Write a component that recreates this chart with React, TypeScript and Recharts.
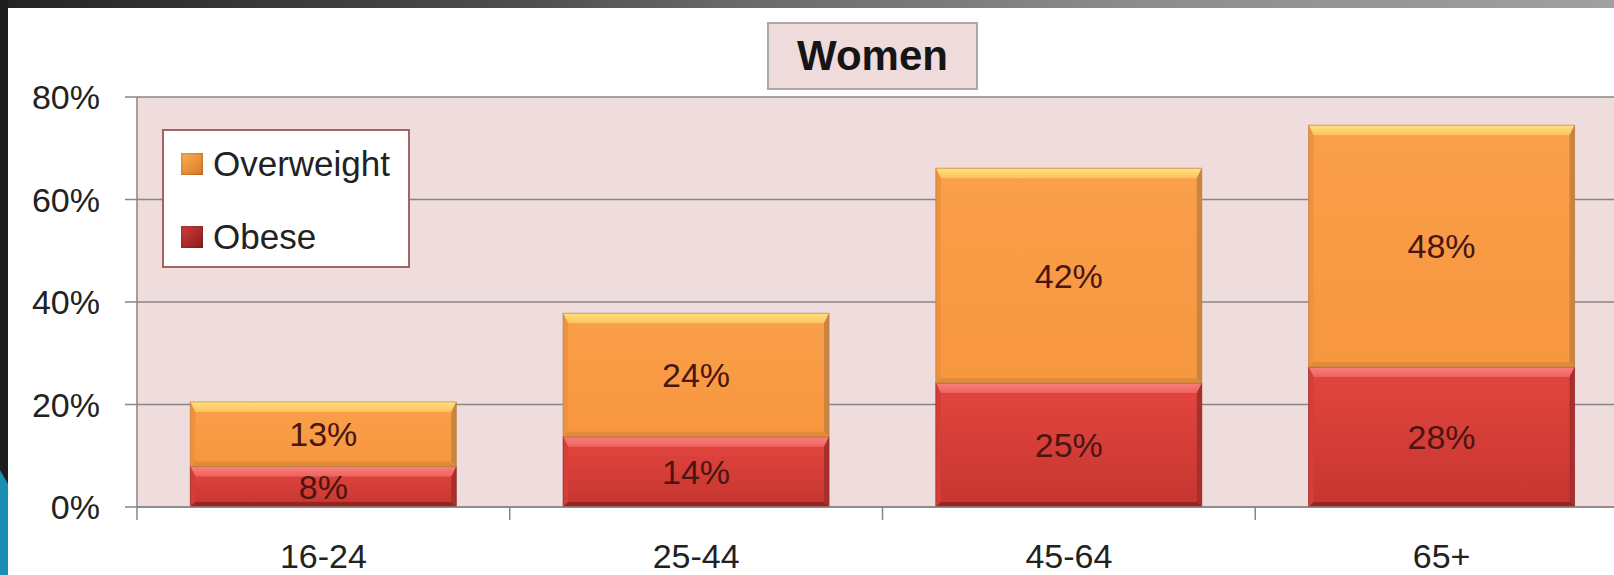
import React from 'react';
import { BarChart, Bar, XAxis, YAxis, CartesianGrid, LabelList, Legend } from 'recharts';

// ---- data ----
const categories = ['16-24', '25-44', '45-64', '65+'];
const obeseValues = [7.9, 13.7, 24.2, 27.3];
const overweightValues = [12.6, 24.1, 41.9, 47.2];
const obeseLabels = ['8%', '14%', '25%', '28%'];
const overweightLabels = ['13%', '24%', '42%', '48%'];
const yTicks = [0, 20, 40, 60, 80];
const legendOrder = ['Overweight', 'Obese'];
const chartTitle = 'Women';

const data = categories.map((c, i) => ({
  category: c,
  obese: obeseValues[i],
  overweight: overweightValues[i],
  obeseLabel: obeseLabels[i],
  overweightLabel: overweightLabels[i],
}));

// ---- layout / style ----
const FONT = '"Liberation Sans", Arial, sans-serif';
const CHART_W = 1640;
const CHART_H = 575;
const MARGIN = { top: 97, right: 12, left: 0, bottom: 0 };
const Y_W = 137;
const X_H = 68;
const BAND = (CHART_W - MARGIN.left - MARGIN.right - Y_W) / categories.length;
const AXIS = '#8a8585';
const TEXT = '#222222';

type Palette = {
  id: string;
  mainTop: string;
  mainBottom: string;
  top1: string;
  top2: string;
  left: string;
  right: string;
  bottom: string;
  outline: string;
};

const ORANGE: Palette = {
  id: 'ow',
  mainTop: '#fa9f4a',
  mainBottom: '#f7973f',
  top1: '#ffe27c',
  top2: '#fbc25e',
  left: '#f0913c',
  right: '#c98441',
  bottom: '#e08a3c',
  outline: '#b7793f',
};
const RED: Palette = {
  id: 'ob',
  mainTop: '#e4463f',
  mainBottom: '#c63530',
  top1: '#f7807c',
  top2: '#ef625e',
  left: '#d63d37',
  right: '#a8302c',
  bottom: '#982420',
  outline: '#8c2a26',
};

const makeShape = (p: Palette) => (props: any) => {
  const { x, y, width: w, height: h, index } = props;
  if (!w || !h || h <= 0) return <g />;
  const t = Math.min(10, h / 3);
  const s = Math.min(5, w / 4);
  const b = Math.min(5, h / 4);
  const gid = `${p.id}-main-${index}`;
  const tid = `${p.id}-top-${index}`;
  return (
    <g>
      <defs>
        <linearGradient id={gid} x1="0" y1="0" x2="0" y2="1">
          <stop offset="0%" stopColor={p.mainTop} />
          <stop offset="100%" stopColor={p.mainBottom} />
        </linearGradient>
        <linearGradient id={tid} x1="0" y1="0" x2="0" y2="1">
          <stop offset="0%" stopColor={p.top1} />
          <stop offset="100%" stopColor={p.top2} />
        </linearGradient>
      </defs>
      <rect x={x} y={y} width={w} height={h} fill={`url(#${gid})`} />
      <polygon
        points={`${x},${y} ${x + w},${y} ${x + w - s},${y + t} ${x + s},${y + t}`}
        fill={`url(#${tid})`}
      />
      <polygon
        points={`${x},${y} ${x + s},${y + t} ${x + s},${y + h - b} ${x},${y + h}`}
        fill={p.left}
      />
      <polygon
        points={`${x + w},${y} ${x + w},${y + h} ${x + w - s},${y + h - b} ${x + w - s},${y + t}`}
        fill={p.right}
      />
      <polygon
        points={`${x},${y + h} ${x + s},${y + h - b} ${x + w - s},${y + h - b} ${x + w},${y + h}`}
        fill={p.bottom}
      />
      <rect x={x} y={y} width={w} height={h} fill="none" stroke={p.outline} strokeWidth={1} strokeOpacity={0.6} />
    </g>
  );
};

const ObeseShape = makeShape(RED);
const OverweightShape = makeShape(ORANGE);

const XTick = (props: any) => {
  const { x, y, payload } = props;
  const bx = x - BAND / 2;
  return (
    <g>
      <line x1={bx} x2={bx} y1={y} y2={y + 13} stroke={AXIS} strokeWidth={1.5} />
      <text x={x} y={y + 61} textAnchor="middle" fontSize={34} fill={TEXT} fontFamily={FONT}>
        {payload.value}
      </text>
    </g>
  );
};

const SWATCH: Record<string, [string, string]> = {
  Overweight: ['#fbb04e', '#d9782a'],
  Obese: ['#d23c3c', '#8a1c1c'],
};

const LegendContent = (props: any) => {
  const payload: any[] = props.payload || [];
  const items = legendOrder
    .map((name) => payload.find((p) => p.value === name) || { value: name })
    .filter(Boolean);
  return (
    <div
      style={{
        position: 'relative',
        boxSizing: 'border-box',
        width: 248,
        height: 139,
        background: '#ffffff',
        border: '2px solid #a56464',
        fontFamily: FONT,
      }}
    >
      {items.map((it: any, i: number) => {
        const [c1, c2] = SWATCH[it.value];
        const cy = i === 0 ? 33 : 106;
        return (
          <div key={it.value}>
            <div
              style={{
                position: 'absolute',
                left: 17,
                top: cy - 11,
                width: 22,
                height: 22,
                background: `linear-gradient(135deg, ${c1}, ${c2})`,
                boxShadow: 'inset 0 0 3px rgba(0,0,0,0.35)',
              }}
            />
            <div
              style={{
                position: 'absolute',
                left: 49,
                top: cy - 21,
                height: 42,
                lineHeight: '42px',
                fontSize: 35,
                color: TEXT,
                whiteSpace: 'nowrap',
              }}
            >
              {it.value}
            </div>
          </div>
        );
      })}
    </div>
  );
};

export default function App() {
  return (
    <div
      style={{
        position: 'fixed',
        left: 0,
        top: 0,
        width: 1614,
        height: 575,
        overflow: 'hidden',
        background: '#ffffff',
      }}
    >
      <BarChart width={CHART_W} height={CHART_H} data={data} margin={MARGIN} barCategoryGap="14.3%">
        <CartesianGrid vertical={false} fill="#efdcdc" fillOpacity={1} stroke={AXIS} strokeWidth={1.5} />
        <XAxis
          dataKey="category"
          height={X_H}
          tickSize={0}
          tickMargin={0}
          tickLine={false}
          axisLine={{ stroke: AXIS, strokeWidth: 1.5 }}
          tick={<XTick />}
          interval={0}
        />
        <YAxis
          width={Y_W}
          domain={[0, 80]}
          ticks={yTicks}
          tickFormatter={(v: number) => `${v}%`}
          tickSize={12}
          tickMargin={25}
          axisLine={{ stroke: AXIS, strokeWidth: 1.5 }}
          tickLine={{ stroke: AXIS, strokeWidth: 1.5 }}
          tick={{ fontSize: 34, fill: TEXT, fontFamily: FONT }}
          allowDataOverflow
        />
        <Legend
          layout="vertical"
          align="center"
          verticalAlign="middle"
          content={<LegendContent />}
          wrapperStyle={{ left: 162, top: 129, width: 248, height: 139 }}
        />
        <Bar dataKey="obese" name="Obese" stackId="s" fill="#d8423b" shape={ObeseShape} isAnimationActive={false}>
          <LabelList dataKey="obeseLabel" position="center" fill="#4a1512" fontSize={34} fontFamily={FONT} />
        </Bar>
        <Bar
          dataKey="overweight"
          name="Overweight"
          stackId="s"
          fill="#f99c47"
          shape={OverweightShape}
          isAnimationActive={false}
        >
          <LabelList dataKey="overweightLabel" position="center" fill="#4a1512" fontSize={34} fontFamily={FONT} />
        </Bar>
      </BarChart>

      <div
        style={{
          position: 'absolute',
          left: 767,
          top: 22,
          width: 211,
          height: 68,
          boxSizing: 'border-box',
          background: '#efdbdb',
          border: '2px solid #a9a9a9',
          fontFamily: FONT,
          fontWeight: 'bold',
          fontSize: 42,
          color: '#151515',
          display: 'flex',
          alignItems: 'center',
          justifyContent: 'center',
        }}
      >
        {chartTitle}
      </div>

      <svg
        width={1614}
        height={575}
        style={{ position: 'absolute', left: 0, top: 0, pointerEvents: 'none' }}
      >
        <defs>
          <linearGradient id="topband" x1="0" y1="0" x2="1" y2="0">
            <stop offset="0%" stopColor="#242424" />
            <stop offset="30%" stopColor="#4a4a4a" />
            <stop offset="45%" stopColor="#686868" />
            <stop offset="70%" stopColor="#8c8c8c" />
            <stop offset="100%" stopColor="#a0a0a0" />
          </linearGradient>
        </defs>
        <rect x={0} y={0} width={1614} height={8} fill="url(#topband)" />
        <rect x={0} y={0} width={8} height={575} fill="#1d1d1d" />
        <polygon points="0,470 8,484 8,575 0,575" fill="#1b8db3" />
      </svg>
    </div>
  );
}
